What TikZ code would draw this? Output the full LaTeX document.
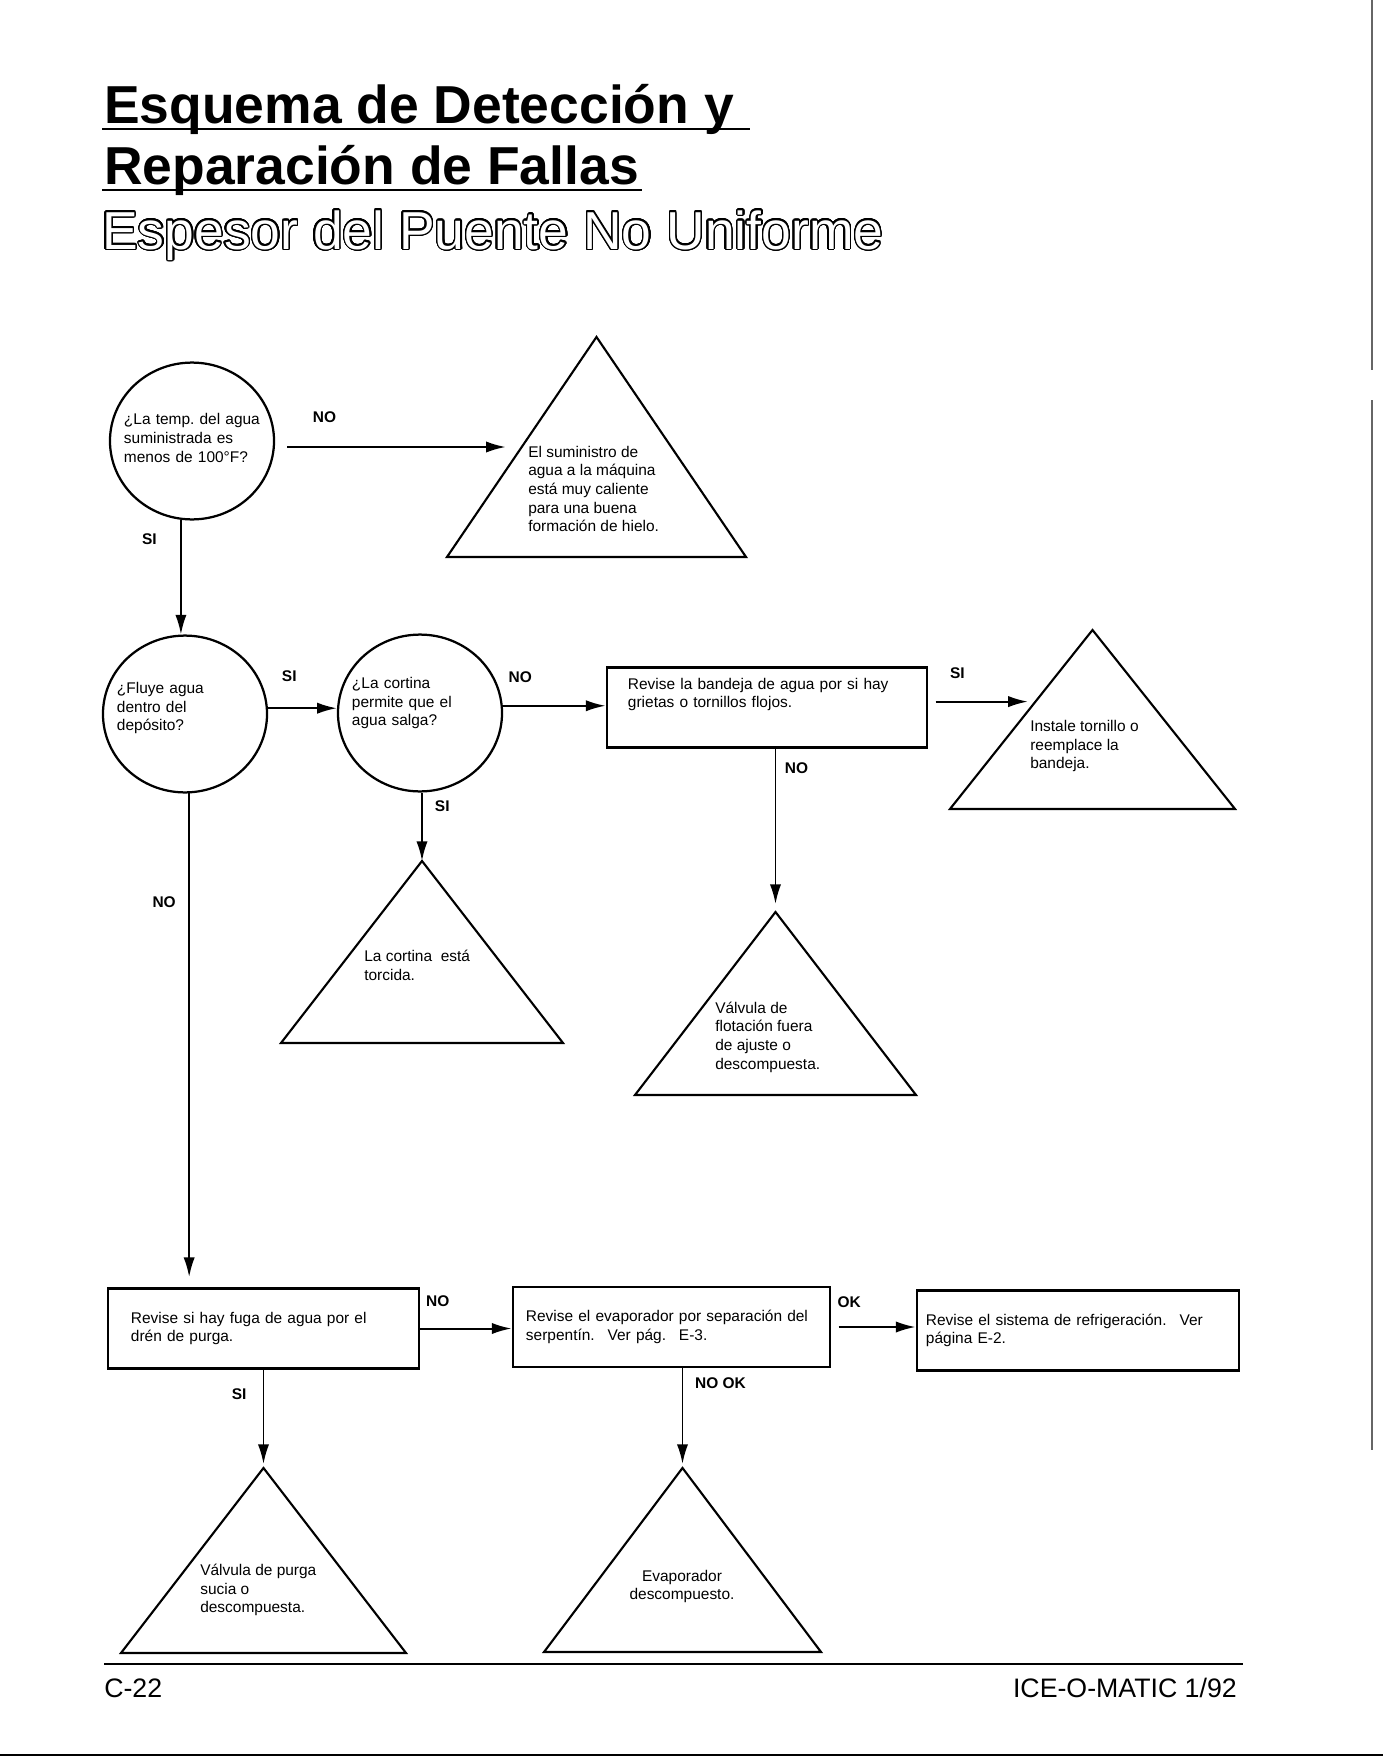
\documentclass[tikz,border=0pt]{standalone}
\usepackage{fontspec}
\setmainfont{Liberation Sans}
\usepackage{contour}
\contourlength{1pt}
\contournumber{32}
\usetikzlibrary{arrows.meta,shapes.geometric,positioning,calc}

\newcommand{\cuerpo}{\fontsize{11}{13.3}\selectfont}
\newcommand{\etiq}{\fontsize{11}{13.3}\selectfont\bfseries}
\newcommand{\grande}{\fontsize{38}{40}\selectfont\bfseries}
\newcommand{\grandefino}{\fontsize{38}{40}\selectfont}
\newcommand{\piefont}{\fontsize{19}{22}\selectfont}

\begin{document}
\begin{tikzpicture}[x=0.025cm, y=-0.025cm,
    pregunta/.style={draw, ellipse, line width=1.6pt, minimum width=4.1cm, minimum height=3.92cm, inner sep=0pt},
    ptxt/.style={text width=3.4cm, align=left, inner sep=0pt, font=\cuerpo},
    caja/.style={draw, rectangle, line width=2pt, minimum height=2cm, align=left, font=\cuerpo},
    tri/.style={inner sep=0pt, outer sep=0pt},
    borde/.style={line width=1.5pt, line join=miter},
    txt/.style={align=left, inner sep=0pt, font=\cuerpo},
    arr/.style={-{Latex[length=14pt, width=8pt]}, line width=1.4pt},
    lbl/.style={font=\etiq, inner sep=0pt},
    titulo/.style={font=\grande, inner sep=0pt},
    subtitulo/.style={font=\grandefino, text=white, inner sep=0pt},
    subraya/.style={line width=2pt},
    pie/.style={font=\piefont, inner sep=0pt}
]
\useasboundingbox (0,0) rectangle (1383,1761);

% titulos
\node[titulo, anchor=base west] (tit1) at (104,124) {Esquema de Detección y};
\node[titulo, anchor=base west] (tit2) at (104,185) {Reparación de Fallas};
\node[subtitulo, anchor=base west] (tit3) at (102,249) {\contour{black}{Espesor del Puente No Uniforme}};
\draw[subraya] (tit1.base west) ++(-2,5) -- ++(648,0);
\draw[subraya] (tit2.base west) ++(-2,5) -- ++(540,0);

% preguntas
\node[pregunta] (Q1) at (192,441) {};
\node[pregunta] (Q2) at (185,714) {};
\node[pregunta] (Q3) at (420,713) {};
\node[ptxt] (Q1t) at (192,438) {¿La temp.\ del agua\\ suministrada es\\ menos de 100°F?};
\node[ptxt] (Q2t) at (185,708) {¿Fluye agua\\ dentro del\\ depósito?};
\node[ptxt] (Q3t) at (420,703) {¿La cortina\\ permite que el\\ agua salga?};

% cajas
\node[caja, text width=6.95cm, inner xsep=0.525cm, text depth=1.2cm] (R1) at (767,707.5) {Revise la bandeja de agua por si hay\\ grietas o tornillos flojos.};
\node[caja, text width=6.625cm, inner xsep=0.575cm] (R2) at (263.5,1328.5) {Revise si hay fuga de agua por el\\ drén de purga.};
\node[caja, text width=7.275cm, inner xsep=0.325cm] (R3) at (671.5,1327) {Revise el evaporador por separación del\\ serpentín.~ Ver pág.~ E-3.};
\node[caja, text width=7.6cm, inner xsep=0.225cm] (R4) at (1078,1330.5) {Revise el sistema de refrigeración.~ Ver\\ página E-2.};

% triangulos
\node[tri, minimum width=7.475cm, minimum height=5.5cm] (T1) at (596.5,447) {};
\node[tri, minimum width=7.125cm, minimum height=4.475cm] (T2) at (1092.5,719.5) {};
\node[tri, minimum width=7.025cm, minimum height=4.575cm] (T3) at (775.5,1003.5) {};
\node[tri, minimum width=7.05cm, minimum height=4.55cm] (T4) at (422,952) {};
\node[tri, minimum width=7.125cm, minimum height=4.625cm] (T5) at (263.5,1560.5) {};
\node[tri, minimum width=6.925cm, minimum height=4.6cm] (T6) at (682.5,1560) {};
\foreach \t in {T1,T2,T3,T4,T5,T6}
  \draw[borde] (\t.south west) -- (\t.north) -- (\t.south east) -- cycle;

\node[txt, anchor=west] (T1t) at (528,489) {El suministro de\\ agua a la máquina\\ está muy caliente\\ para una buena\\ formación de hielo.};
\node[txt, anchor=west] (T2t) at (1030,746) {Instale tornillo o\\ reemplace la\\ bandeja.};
\node[txt, anchor=west] (T3t) at (715,1037) {Válvula de\\ flotación fuera\\ de ajuste o\\ descompuesta.};
\node[txt, anchor=west] (T4t) at (364,965.5) {La cortina~ está\\ torcida.};
\node[txt, anchor=west] (T5t) at (200,1590) {Válvula de purga\\ sucia o\\ descompuesta.};
\node[txt, align=center] (T6t) at (682,1586.5) {Evaporador\\ descompuesto.};

\coordinate (T1in) at ($(T1.north)!0.5!(T1.south west)$);
\coordinate (T2in) at ($(T2.north)!0.4!(T2.south west)$);

% conexiones
\draw[arr, shorten <=0.3cm, shorten >=0.4cm] (Q1.east |- T1in) -- node[lbl, pos=0.2, above=0.58cm] {NO} (T1in);
\draw[arr] (Q1.262) -- node[lbl, pos=0.17, left=0.58cm] {SI} (Q1.262 |- Q2.north);
\draw[arr] (Q2.4) -- node[lbl, pos=0.31, above=0.65cm] {SI} (Q2.4 -| Q3.west);
\draw[arr] (Q3.5) -- node[lbl, pos=0.17, above=0.55cm] {NO} (Q3.5 -| R1.west);
\draw[arr, shorten <=0.18cm, shorten >=0.19cm] (R1.east |- T2in) -- node[lbl, pos=0.27, above=0.54cm] {SI} (T2in);
\draw[arr, shorten >=0.2cm] (T3.north |- R1.south) -- node[lbl, pos=0.12, right=0.21cm] {NO} (T3.north);
\draw[arr] (T4.north |- Q3.south) -- node[lbl, pos=0.2, right=0.3cm] {SI} (T4.north);
\draw[arr, shorten >=0.25cm] (Q2.273) -- node[lbl, pos=0.22, left=0.31cm] {NO} (Q2.273 |- R2.north);
\draw[arr] (R2.east) -- node[lbl, pos=0.19, above=0.53cm] {NO} (R2.east -| R3.west);
\draw[arr, shorten <=0.18cm] (R3.east) -- node[lbl, pos=0.21, above=0.45cm] {OK} (R3.east -| R4.west);
\draw[arr, shorten >=0.1cm] (T5.north |- R2.south) -- node[lbl, pos=0.25, left=0.4cm] {SI} (T5.north);
\draw[arr, shorten >=0.1cm] (T6.north |- R3.south) -- node[lbl, pos=0.15, right=0.29cm] {NO OK} (T6.north);

% pie de pagina
\draw[line width=2pt] (104,1664) -- (1243,1664);
\node[pie, anchor=base west] (pag) at (104,1697) {C-22};
\node[pie, anchor=base east] (marca) at (1237,1697) {ICE-O-MATIC 1/92};

% bordes del escaneo
\draw[line width=0.8pt, black!60] (1372,0) -- (1372,370) (1372,400) -- (1372,1450);
\draw[line width=1.5pt] (0,1755) -- (1383,1755);
\end{tikzpicture}
\end{document}
